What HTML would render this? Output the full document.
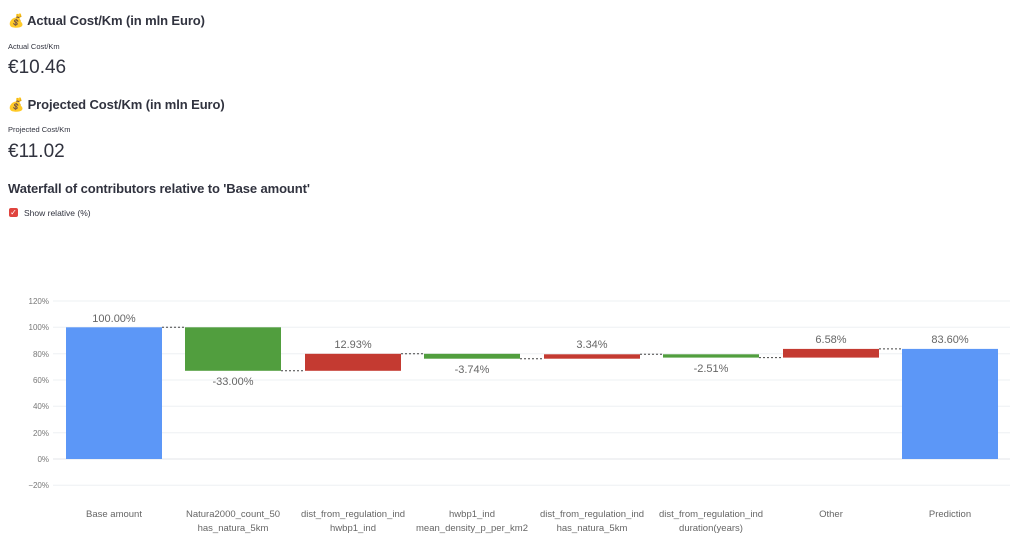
<!DOCTYPE html>
<html><head><meta charset="utf-8"><style>
body{margin:0;width:1024px;height:549px;background:#fff;font-family:"Liberation Sans",sans-serif;color:#31333f;position:relative;overflow:hidden}
.a{position:absolute;white-space:nowrap}
.t{font-size:13px;font-weight:bold;letter-spacing:-0.1px}
</style></head><body>
<div class="a t" style="left:8px;top:13px">💰 Actual Cost/Km (in mln Euro)</div>
<div class="a" style="left:8px;top:42px;font-size:7.5px">Actual Cost/Km</div>
<div class="a" style="left:8px;top:57px;font-size:19px">€10.46</div>
<div class="a t" style="left:8px;top:97px">💰 Projected Cost/Km (in mln Euro)</div>
<div class="a" style="left:8px;top:125px;font-size:7.5px">Projected Cost/Km</div>
<div class="a" style="left:8px;top:141px;font-size:19px">€11.02</div>
<div class="a t" style="left:8px;top:181px">Waterfall of contributors relative to 'Base amount'</div>
<div class="a" style="left:9px;top:208px;width:9px;height:9px;background:#e0443e;border-radius:2px;color:#fff;font-size:8px;line-height:9px;text-align:center">✓</div>
<div class="a" style="left:24px;top:208px;font-size:8.5px">Show relative (%)</div>
<svg class="a" style="left:0;top:0" width="1024" height="549" font-family="Liberation Sans, sans-serif">
<g stroke="#eef0f3" stroke-width="1">
<line x1="53" x2="1010" y1="301" y2="301"/><line x1="53" x2="1010" y1="327.3" y2="327.3"/><line x1="53" x2="1010" y1="353.7" y2="353.7"/><line x1="53" x2="1010" y1="380" y2="380"/><line x1="53" x2="1010" y1="406.3" y2="406.3"/><line x1="53" x2="1010" y1="432.7" y2="432.7"/><line x1="53" x2="1010" y1="485.3" y2="485.3"/>
</g>
<line x1="53" x2="1010" y1="459" y2="459" stroke="#e3e5e9"/>
<g font-size="8" fill="#777" text-anchor="end">
<text x="49" y="304">120%</text><text x="49" y="330">100%</text><text x="49" y="357">80%</text><text x="49" y="383">60%</text><text x="49" y="409">40%</text><text x="49" y="436">20%</text><text x="49" y="462">0%</text><text x="49" y="488">−20%</text>
</g>
<g stroke="#444" stroke-dasharray="2,2" stroke-width="1">
<line x1="162" x2="185" y1="327.3" y2="327.3"/><line x1="281" x2="305" y1="370.8" y2="370.8"/><line x1="401" x2="424" y1="353.8" y2="353.8"/><line x1="520" x2="544" y1="358.7" y2="358.7"/><line x1="640" x2="663" y1="354.3" y2="354.3"/><line x1="759" x2="783" y1="357.6" y2="357.6"/><line x1="879" x2="902" y1="348.9" y2="348.9"/>
</g>
<rect x="66" y="327.3" width="96" height="131.7" fill="#5c97f7"/>
<rect x="185" y="327.3" width="96" height="43.5" fill="#519e3e"/>
<rect x="305" y="353.8" width="96" height="17" fill="#c43a31"/>
<rect x="424" y="353.8" width="96" height="4.9" fill="#519e3e"/>
<rect x="544" y="354.3" width="96" height="4.4" fill="#c43a31"/>
<rect x="663" y="354.3" width="96" height="3.3" fill="#519e3e"/>
<rect x="783" y="348.9" width="96" height="8.7" fill="#c43a31"/>
<rect x="902" y="348.9" width="96" height="110.1" fill="#5c97f7"/>
<g font-size="11" fill="#666" text-anchor="middle">
<text x="114" y="322">100.00%</text>
<text x="233" y="385">-33.00%</text>
<text x="353" y="348">12.93%</text>
<text x="472" y="373">-3.74%</text>
<text x="592" y="348">3.34%</text>
<text x="711" y="372">-2.51%</text>
<text x="831" y="343">6.58%</text>
<text x="950" y="343">83.60%</text>
</g>
<g font-size="9.5" fill="#666" text-anchor="middle">
<text x="114" y="517">Base amount</text>
<text x="233" y="517">Natura2000_count_50</text><text x="233" y="531">has_natura_5km</text>
<text x="353" y="517">dist_from_regulation_ind</text><text x="353" y="531">hwbp1_ind</text>
<text x="472" y="517">hwbp1_ind</text><text x="472" y="531">mean_density_p_per_km2</text>
<text x="592" y="517">dist_from_regulation_ind</text><text x="592" y="531">has_natura_5km</text>
<text x="711" y="517">dist_from_regulation_ind</text><text x="711" y="531">duration(years)</text>
<text x="831" y="517">Other</text>
<text x="950" y="517">Prediction</text>
</g>
</svg>
</body></html>
